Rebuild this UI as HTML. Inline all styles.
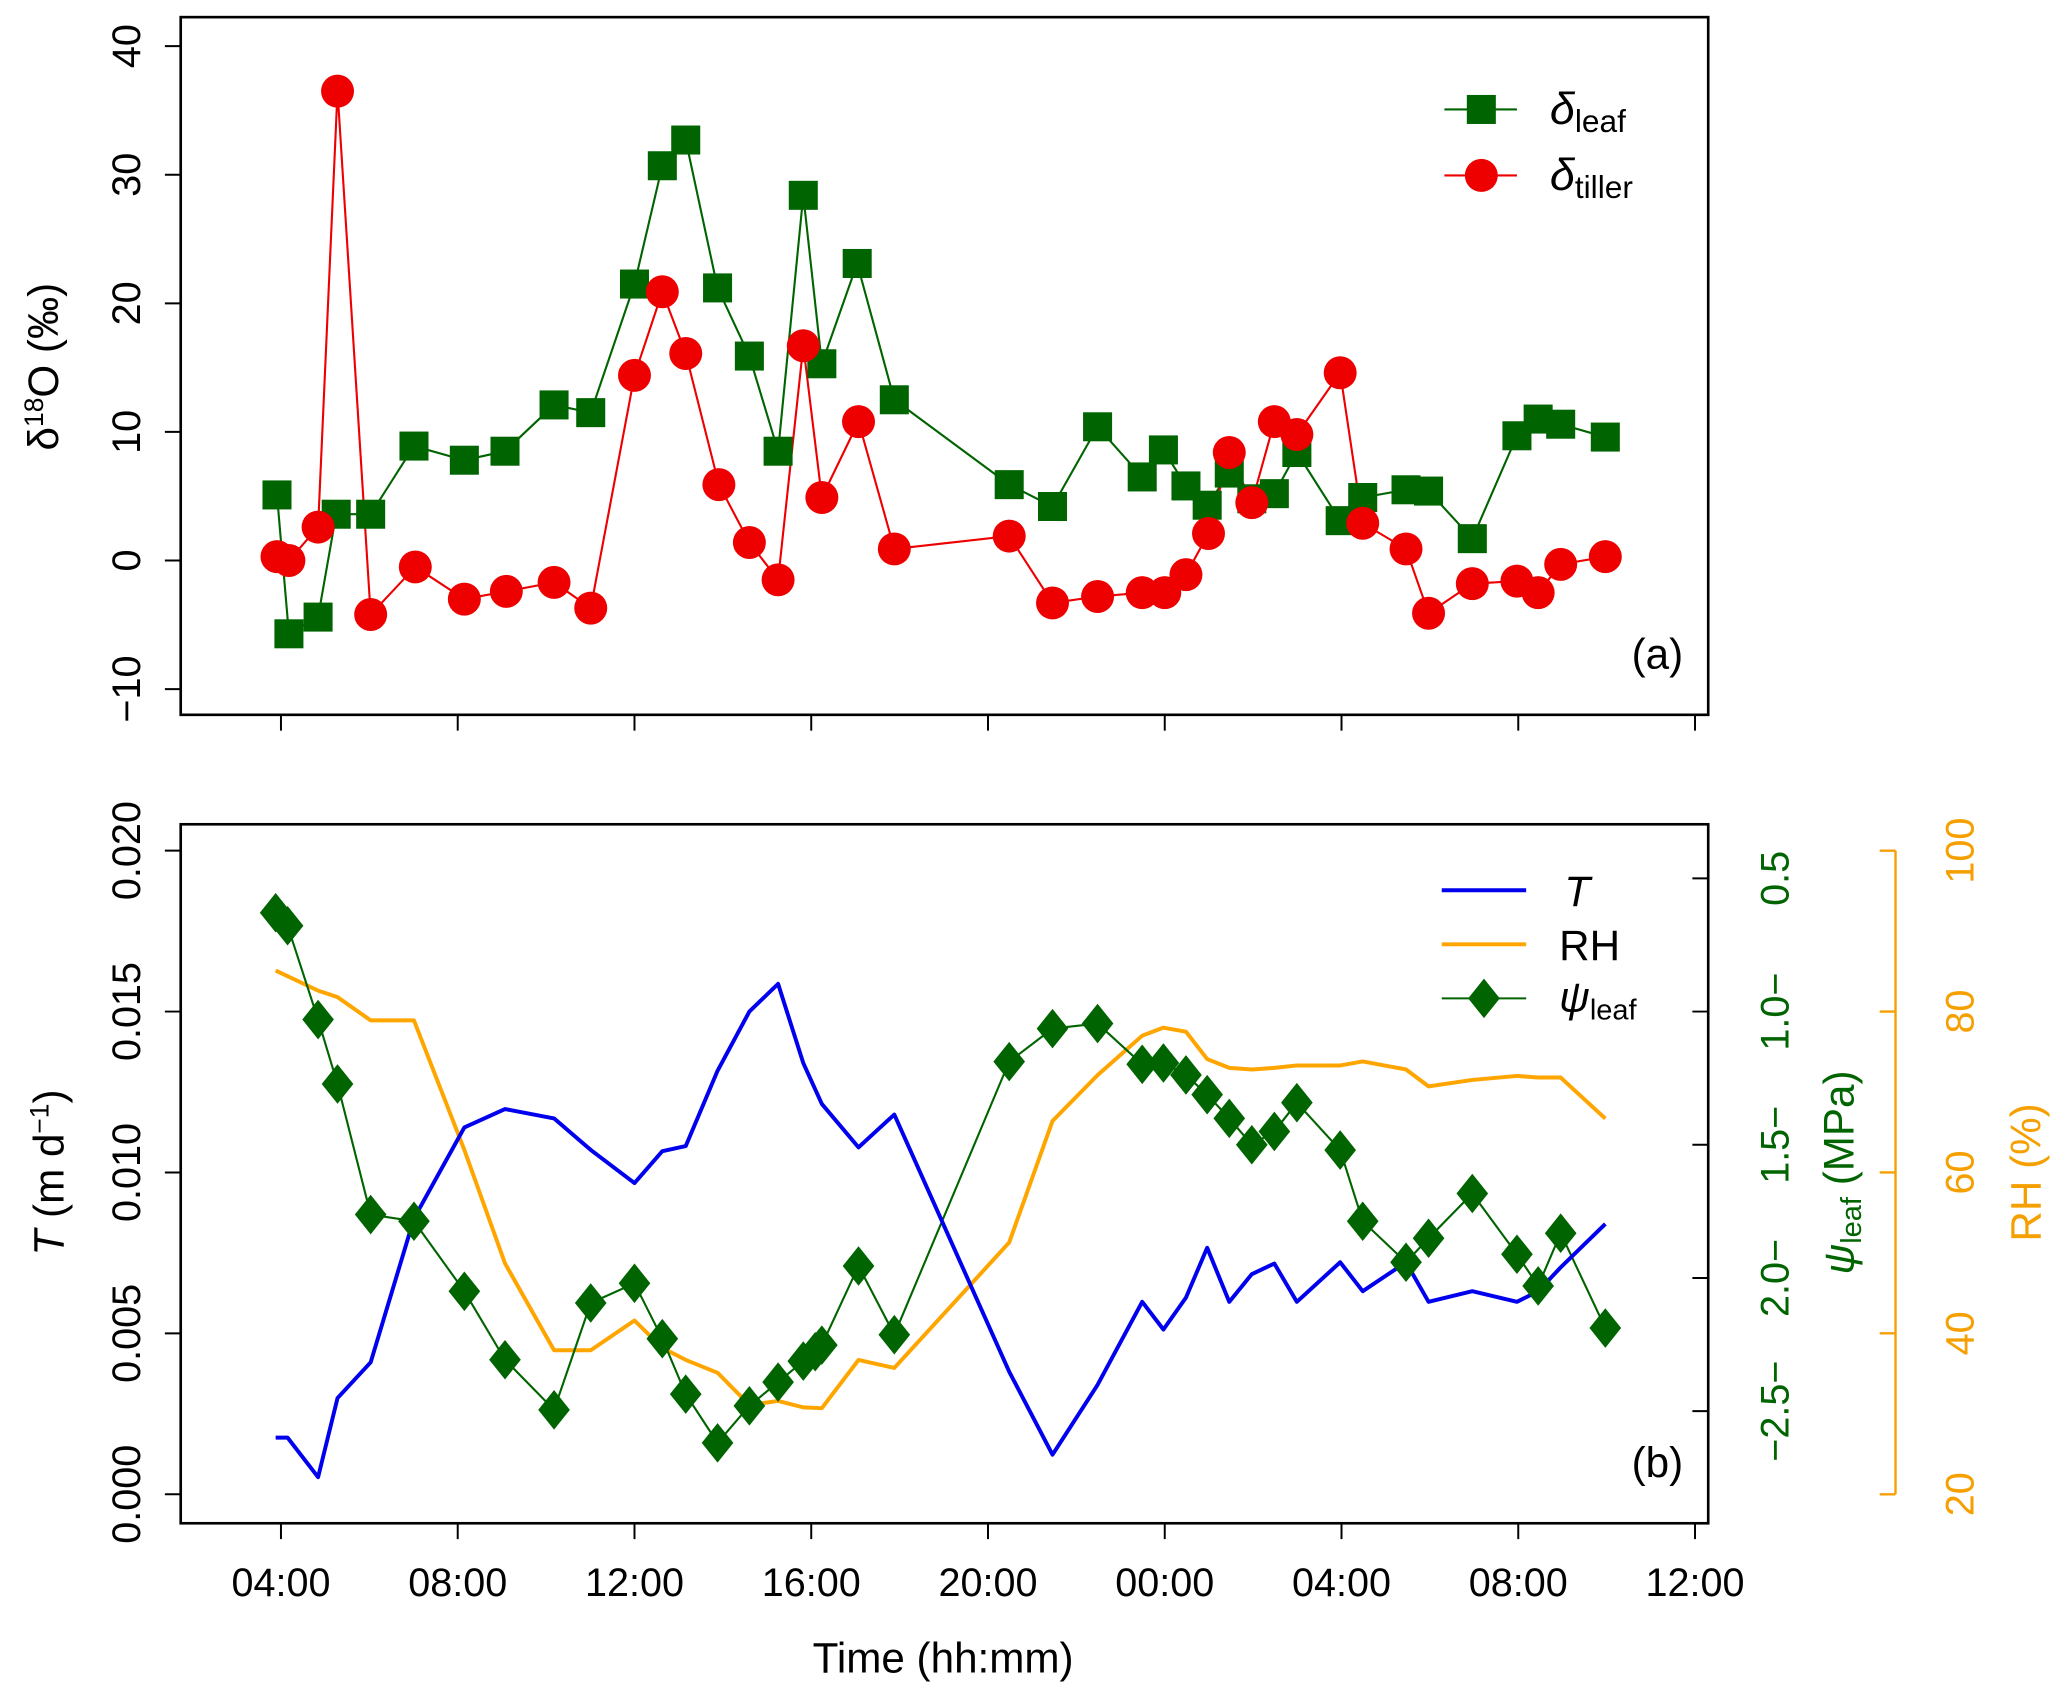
<!DOCTYPE html>
<html><head><meta charset="utf-8"><style>
html,body{margin:0;padding:0;background:#fff}
svg{display:block}
text{font-family:"Liberation Sans",sans-serif}
</style></head><body>
<svg id="chart" width="2067" height="1700" viewBox="0 0 1567 1289" preserveAspectRatio="none" xmlns="http://www.w3.org/2000/svg">
<g id="pa"></g>
<g id="pb"></g>
</svg>
<script>
// ---- Panel (a) data ----
const leafHours = [-0.09,0.18,0.84,1.25,2.03,3.01,4.15,5.07,6.18,7.01,8.0,8.63,9.16,9.88,10.6,11.25,11.82,12.24,13.04,13.88,16.48,17.46,18.48,19.49,19.97,20.48,20.96,21.46,21.97,22.48,22.99,23.97,24.48,25.46,25.97,26.96,27.97,28.45,28.96,29.97];
const leafValues = [5.1,-5.7,-4.4,3.6,3.6,8.9,7.8,8.5,12.1,11.5,21.5,30.7,32.7,21.2,15.9,8.5,28.4,15.3,23.1,12.5,5.9,4.2,10.4,6.5,8.6,5.8,4.3,6.8,4.8,5.2,8.4,3.1,4.9,5.5,5.4,1.7,9.7,11.0,10.6,9.6];
const tillerHours = [-0.09,0.18,0.84,1.28,2.03,3.04,4.15,5.1,6.18,7.01,8.0,8.63,9.16,9.91,10.6,11.25,11.82,12.24,13.07,13.88,16.48,17.46,18.48,19.49,20.0,20.48,20.99,21.46,21.97,22.48,22.99,23.97,24.48,25.46,25.97,26.96,27.97,28.45,28.96,29.97];
const tillerValues = [0.3,0.0,2.6,36.5,-4.2,-0.5,-3.0,-2.4,-1.7,-3.7,14.4,20.9,16.1,5.9,1.4,-1.5,16.7,4.9,10.8,0.9,1.9,-3.3,-2.8,-2.5,-2.5,-1.1,2.1,8.4,4.5,10.8,9.8,14.6,2.9,0.9,-4.1,-1.8,-1.6,-2.5,-0.3,0.3];
const aTicks = [-10,0,10,20,30,40];
const xTickLabels = ["04:00","08:00","12:00","16:00","20:00","00:00","04:00","08:00","12:00"];
// ---- Panel (b) data ----
const tHours = [-0.12,0.15,0.84,1.28,2.03,3.01,4.15,5.07,6.18,7.01,8.0,8.63,9.16,9.88,10.6,11.25,11.82,12.24,13.07,13.88,16.48,17.46,18.48,19.49,19.97,20.48,20.96,21.46,21.97,22.48,22.99,23.97,24.48,25.46,25.97,26.96,27.97,28.45,28.96,29.97];
const tValues = [0.00176,0.00176,0.00053,0.00299,0.0041,0.00857,0.0114,0.01197,0.01168,0.0107,0.00967,0.01066,0.01082,0.01316,0.015,0.01586,0.0134,0.01213,0.01078,0.0118,0.00381,0.00123,0.0034,0.00598,0.00512,0.00611,0.00766,0.00598,0.00684,0.00717,0.00598,0.00721,0.00631,0.00721,0.00598,0.00631,0.00598,0.00631,0.00705,0.0084];
const rhValues = [85.1,84.4,82.6,81.8,78.9,78.9,62.8,48.7,37.9,37.9,41.6,38.2,36.7,35.1,31.1,31.6,30.8,30.7,36.7,35.7,51.3,66.4,72.1,77.0,78.0,77.5,74.1,73.0,72.8,73.0,73.3,73.3,73.8,72.8,70.7,71.5,72.0,71.8,71.8,66.7];
const psiHours = [-0.12,0.15,0.84,1.28,2.03,3.01,4.15,5.07,6.18,7.01,8.0,8.63,9.16,9.88,10.6,11.25,11.82,12.09,12.24,13.07,13.88,16.48,17.46,18.48,19.49,19.97,20.48,20.96,21.46,21.97,22.48,22.99,23.97,24.48,25.46,25.97,26.96,27.97,28.45,28.96,29.97];
const psiValues = [-0.629,-0.678,-1.030,-1.272,-1.762,-1.787,-2.050,-2.307,-2.495,-2.094,-2.020,-2.228,-2.436,-2.619,-2.480,-2.391,-2.312,-2.277,-2.252,-1.955,-2.213,-1.188,-1.064,-1.045,-1.198,-1.193,-1.238,-1.312,-1.401,-1.500,-1.450,-1.342,-1.520,-1.787,-1.941,-1.851,-1.683,-1.911,-2.030,-1.832,-2.188];
const tTicks = [0,0.005,0.010,0.015,0.020];
const tTickLabels = ["0.000","0.005","0.010","0.015","0.020"];
const psiTicks = [-2.5,-2.0,-1.5,-1.0,-0.5];
const psiTickLabels = ["\u22122.5\u2212","2.0\u2212","1.5\u2212","1.0\u2212","0.5"];
const rhTicks = [20,40,60,80,100];

const NS = "http://www.w3.org/2000/svg";
function mk(parent, tag, attrs, txt){
  const e = document.createElementNS(NS, tag);
  for (const k in attrs) e.setAttribute(k, attrs[k]);
  if (txt !== undefined) e.textContent = txt;
  parent.appendChild(e); return e;
}
const X = h => 213 + h*33.5;
const Ya = v => 425 - v*9.75;
const Yt = v => 1133 - v/0.005*122;
const Yrh = v => 1133 - (v-20)*6.1;
const Ypsi = v => 666 + (-v-0.5)*202;

const pa = document.getElementById('pa');
const pb = document.getElementById('pb');

// ---------- Panel a ----------
let r = mk(pa,'rect',{x:137,y:13,width:1158,height:529,fill:'none',stroke:'#000','stroke-width':2});


aTicks.forEach(v=>{
  const y = Ya(v);
  let t = mk(pa,'line',{x1:125,x2:137,y1:y,y2:y,stroke:'#000','stroke-width':1.5});
  
  
  let l = mk(pa,'text',{x:0,y:0,'font-size':30,'text-anchor':'middle',transform:`translate(106,${y}) rotate(-90)`}, (v<0?'\u2212':'')+Math.abs(v));
  
  
});
xTickLabels.forEach((s,i)=>{
  const x = X(i*4);
  let t = mk(pa,'line',{x1:x,x2:x,y1:542,y2:554,stroke:'#000','stroke-width':1.5});
  
  
});
let yt = mk(pa,'text',{transform:'translate(44,278) rotate(-90)','font-size':32,'text-anchor':'middle'});
yt.innerHTML = 'δ<tspan baseline-shift="super" font-size="20">18</tspan>O (‰)';



function series(parent, hours, vals, ys, color, lw, name){
  const pts = hours.map((h,i)=>X(h)+','+ys(vals[i])).join(' ');
  const p = mk(parent,'polyline',{points:pts,fill:'none',stroke:color,'stroke-width':lw,'stroke-linejoin':'round'});
  
  
}
series(pa, leafHours, leafValues, Ya, '#006400', 1.6, 'leaf-line');
series(pa, tillerHours, tillerValues, Ya, '#ee0000', 1.6, 'tiller-line');
leafHours.forEach((h,i)=>{
  const m = mk(pa,'rect',{x:X(h)-11,y:Ya(leafValues[i])-11,width:22,height:22,fill:'#006400'});
  
  
});
tillerHours.forEach((h,i)=>{
  const m = mk(pa,'circle',{cx:X(h),cy:Ya(tillerValues[i]),r:12.5,fill:'#ee0000'});
  
  
});
// legend a
let lg = mk(pa,'g',{});


mk(lg,'line',{x1:1095,x2:1150,y1:83,y2:83,stroke:'#006400','stroke-width':1.6});
mk(lg,'rect',{x:1112,y:72,width:22,height:22,fill:'#006400'});
let lt1 = mk(lg,'text',{x:1175,y:94,'font-size':34});
lt1.innerHTML = '<tspan font-style="italic">δ</tspan><tspan font-size="24" dy="6">leaf</tspan>';


mk(lg,'line',{x1:1095,x2:1150,y1:133,y2:133,stroke:'#ee0000','stroke-width':1.6});
mk(lg,'circle',{cx:1123,cy:133,r:12.5,fill:'#ee0000'});
let lt2 = mk(lg,'text',{x:1175,y:144,'font-size':34});
lt2.innerHTML = '<tspan font-style="italic">δ</tspan><tspan font-size="24" dy="6">tiller</tspan>';


let pla = mk(pa,'text',{x:1276,y:507,'font-size':32,'text-anchor':'end'},'(a)');



// ---------- Panel b ----------
r = mk(pb,'rect',{x:137,y:625,width:1158,height:530,fill:'none',stroke:'#000','stroke-width':2});


tTicks.forEach((v,i)=>{
  const y = Yt(v);
  let t = mk(pb,'line',{x1:125,x2:137,y1:y,y2:y,stroke:'#000','stroke-width':1.5});
  
  
  let l = mk(pb,'text',{'font-size':30,'text-anchor':'middle',transform:`translate(106,${y}) rotate(-90)`}, tTickLabels[i]);
  
  
});
xTickLabels.forEach((s,i)=>{
  const x = X(i*4);
  let t = mk(pb,'line',{x1:x,x2:x,y1:1155,y2:1167,stroke:'#000','stroke-width':1.5});
  
  
  let l = mk(pb,'text',{x:x,y:1210,'font-size':30,'text-anchor':'middle'},s);
  
  
});
let xt = mk(pb,'text',{x:715,y:1268,'font-size':32,'text-anchor':'middle'},'Time (hh:mm)');


let ytb = mk(pb,'text',{transform:'translate(48,889) rotate(-90)','font-size':32,'text-anchor':'middle'});
ytb.innerHTML = '<tspan font-style="italic">T</tspan> (m d<tspan baseline-shift="super" font-size="20">−1</tspan>)';


// psi axis
psiTicks.forEach((v,i)=>{
  const y = Ypsi(v);
  let t = mk(pb,'line',{x1:1283,x2:1295,y1:y,y2:y,stroke:'#000','stroke-width':1.5});
  
  
  let l = mk(pb,'text',{'font-size':30,'text-anchor':'middle',fill:'#006400',transform:`translate(1356,${y}) rotate(-90)`}, psiTickLabels[i]);
  
  
});
let pt = mk(pb,'text',{transform:'translate(1405,889) rotate(-90)','font-size':32,'text-anchor':'middle',fill:'#006400'});
pt.innerHTML = '<tspan font-style="italic">ψ</tspan><tspan font-size="22" dy="6">leaf</tspan><tspan dy="-6"> (MPa)</tspan>';


// RH axis
let ra = mk(pb,'line',{x1:1437,x2:1437,y1:Yrh(20),y2:Yrh(100),stroke:'#f5a000','stroke-width':1.8});


rhTicks.forEach(v=>{
  const y = Yrh(v);
  let t = mk(pb,'line',{x1:1425,x2:1437,y1:y,y2:y,stroke:'#f5a000','stroke-width':1.8});
  
  
  let l = mk(pb,'text',{'font-size':30,'text-anchor':'middle',fill:'#f5a000',transform:`translate(1496,${y}) rotate(-90)`}, String(v));
  
  
});
let rt = mk(pb,'text',{transform:'translate(1547,889) rotate(-90)','font-size':32,'text-anchor':'middle',fill:'#f5a000'},'RH (%)');



series(pb, tHours, rhValues, Yrh, '#ffa500', 3, 'rh-line');
series(pb, psiHours, psiValues, Ypsi, '#006400', 1.6, 'psi-line');
series(pb, tHours, tValues, Yt, '#0000ee', 3, 't-line');
psiHours.forEach((h,i)=>{
  const x = X(h), y = Ypsi(psiValues[i]);
  const m = mk(pb,'polygon',{points:`${x},${y-15} ${x+12},${y} ${x},${y+15} ${x-12},${y}`,fill:'#006400'});
  
  
});
// legend b
let lb = mk(pb,'g',{});


mk(lb,'line',{x1:1093,x2:1157,y1:675,y2:675,stroke:'#0000ee','stroke-width':3});
let l1 = mk(lb,'text',{x:1186,y:687,'font-size':32,'font-style':'italic'},'T');


mk(lb,'line',{x1:1093,x2:1157,y1:716,y2:716,stroke:'#ffa500','stroke-width':3});
let l2 = mk(lb,'text',{x:1182,y:728,'font-size':32},'RH');


mk(lb,'line',{x1:1093,x2:1157,y1:757,y2:757,stroke:'#006400','stroke-width':1.6});
mk(lb,'polygon',{points:'1125,742 1137,757 1125,772 1113,757',fill:'#006400'});
let l3 = mk(lb,'text',{x:1182,y:767,'font-size':32});
l3.innerHTML = '<tspan font-style="italic">ψ</tspan><tspan font-size="22" dy="6">leaf</tspan>';


let plb = mk(pb,'text',{x:1276,y:1120,'font-size':32,'text-anchor':'end'},'(b)');


</script>
</body></html>
